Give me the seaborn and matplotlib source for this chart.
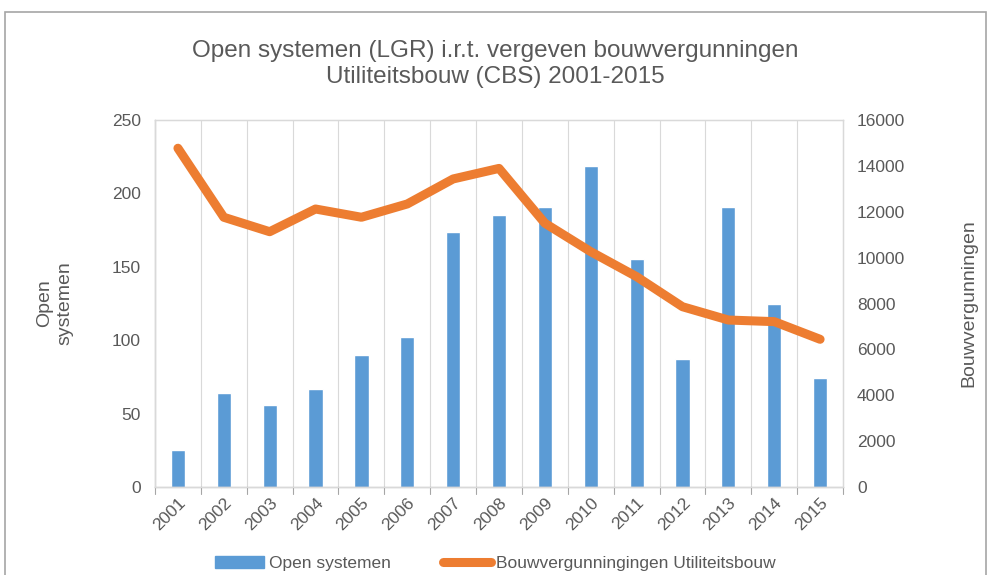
import numpy as np
import pandas as pd
import matplotlib
matplotlib.use("Agg")
import matplotlib.pyplot as plt
import seaborn as sns
from matplotlib.patches import Patch, Rectangle
from matplotlib.lines import Line2D

# Data
years = ["2001", "2002", "2003", "2004", "2005", "2006", "2007", "2008",
         "2009", "2010", "2011", "2012", "2013", "2014", "2015"]
open_systemen = [25, 64, 56, 67, 90, 102, 174, 185, 191, 219, 155, 87, 191, 125, 74]
bouwvergunningen = [14770, 11760, 11130, 12120, 11760, 12340, 13430, 13890,
                    11500, 10260, 9170, 7860, 7280, 7210, 6440]

df = pd.DataFrame({"Jaar": years,
                   "Open systemen": open_systemen,
                   "Bouwvergunningen": bouwvergunningen})
df["pos"] = np.arange(len(df))

sns.set_style("white")
plt.rcParams["font.family"] = ["Liberation Sans", "DejaVu Sans"]

blue = "#5B9BD5"
orange = "#ED7D31"
grey = "#595959"
gridc = "#D9D9D9"

fig = plt.figure(figsize=(9.91, 5.75), dpi=100)
ax = fig.add_axes([0.1564, 0.1530, 0.6943, 0.6383])

# outer chart border
fig.patches.append(Rectangle((0.005, -0.01), 0.99, 0.99, transform=fig.transFigure,
                             fill=False, edgecolor="#A6A6A6", linewidth=1.2))

sns.barplot(data=df, x="Jaar", y="Open systemen", color=blue, width=0.31,
            saturation=1, ax=ax, zorder=2)
ax.set_ylim(0, 250)
ax.set_xlim(-0.5, len(years) - 0.5)
ax.set_yticks(range(0, 251, 50))

# vertical gridlines between categories
for b in np.arange(0.5, len(years) - 0.5, 1):
    ax.axvline(b, color=gridc, linewidth=0.8, zorder=0)

ax2 = ax.twinx()
sns.lineplot(data=df, x="pos", y="Bouwvergunningen", color=orange, linewidth=6.5,
             ax=ax2, zorder=3, solid_capstyle="round", solid_joinstyle="round")
ax2.set_ylim(0, 16000)
ax2.set_yticks(range(0, 16001, 2000))
ax2.set_xlim(-0.5, len(years) - 0.5)

for a in (ax, ax2):
    for s in a.spines.values():
        s.set_color(gridc)
        s.set_linewidth(0.9)
    a.tick_params(axis="y", colors=grey, labelsize=12.5, length=0, pad=10)
ax.spines["left"].set_color("#A6A6A6")
ax.spines["bottom"].set_color("#A6A6A6")

ax.set_xticks(np.arange(len(years)))
ax.set_xticklabels(years, rotation=45, ha="right", rotation_mode="anchor",
                   color=grey, fontsize=12.5)
ax.tick_params(axis="x", length=0, pad=6)
# boundary tick marks on the category axis
for b in np.arange(-0.5, len(years), 1):
    ax.plot([b, b], [0, -5], color="#A6A6A6", linewidth=0.8, clip_on=False)

ax.set_xlabel("")
ax.set_ylabel("Open\nsystemen", color=grey, fontsize=14, labelpad=28)
ax2.set_ylabel("Bouwvergunningen", color=grey, fontsize=14, labelpad=40)

fig.suptitle("Open systemen (LGR) i.r.t. vergeven bouwvergunningen\n"
             "Utiliteitsbouw (CBS) 2001-2015",
             x=0.5, y=0.93, color=grey, fontsize=17.5, linespacing=1.25)

handles = [Patch(facecolor=blue, edgecolor=blue),
           Line2D([0], [0], color=orange, linewidth=6.5, solid_capstyle="round")]
fig.legend(handles, ["Open systemen", "Bouwvergunningingen Utiliteitsbouw"],
           loc="center", bbox_to_anchor=(0.5, 0.02), ncol=2, frameon=False,
           fontsize=12.5, labelcolor=grey, handlelength=2.8, columnspacing=3,
           handletextpad=0.3)

fig.savefig("out.png", dpi=100)
